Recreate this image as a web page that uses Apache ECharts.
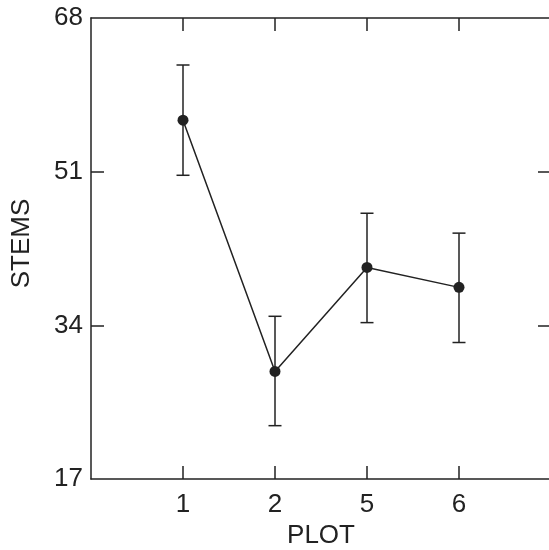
<!DOCTYPE html>
<html>
<head>
<meta charset="utf-8">
<script src="https://cdn.jsdelivr.net/npm/echarts@6/dist/echarts.min.js"></script>
<style>
  html, body { margin: 0; padding: 0; background: #fff; }
  #chart { width: 549px; height: 550px; }
</style>
</head>
<body>
<div id="chart"></div>
<script>
// plots along the x axis, in the order drawn
const plots = ['1', '2', '5', '6']
// mean stem counts and error bar limits
const stemMeans = [56.7, 28.9, 40.4, 38.2]
const stemLow = [50.6, 22.9, 34.3, 32.1]
const stemHigh = [62.8, 35.0, 46.4, 44.2]
const yTicks = [17, 34, 51, 68]

const ink = '#222'
const font = 'Liberation Sans, Arial, Helvetica, sans-serif'

// plot i sits at position i + 1 on a 0..5 axis
const tickLabels = [''].concat(plots, [''])
const plotPos = plots.map((p, i) => i + 1)
const meanData = plots.map((p, i) => [plotPos[i], stemMeans[i]])
const barData = plots.map((p, i) => [plotPos[i], stemLow[i], stemHigh[i]])
const innerY = yTicks.slice(1, -1)

let myChart = echarts.init(document.getElementById('chart'))

const labelStyle = { color: ink, fontSize: 26, fontFamily: font }
const lineStyle = { color: ink, width: 1.5 }

myChart.setOption({
    backgroundColor: '#fff',
    animation: false,
    grid: { left: 91, right: -2, top: 18, bottom: 71, containLabel: false, outerBoundsMode: 'none' },
    xAxis: [
        {
            type: 'value',
            min: 0,
            max: 5,
            interval: 1,
            position: 'bottom',
            name: 'PLOT',
            nameLocation: 'middle',
            nameGap: 44,
            nameTextStyle: labelStyle,
            axisLine: { onZero: false, lineStyle: lineStyle },
            axisTick: { inside: true, length: 13, customValues: plotPos, lineStyle: lineStyle },
            axisLabel: Object.assign({ margin: 13, customValues: plotPos, formatter: v => tickLabels[v] || '' }, labelStyle),
            splitLine: { show: false }
        },
        {
            type: 'value',
            min: 0,
            max: 5,
            interval: 1,
            position: 'top',
            axisLine: { onZero: false, lineStyle: lineStyle },
            axisTick: { inside: true, length: 13, customValues: plotPos, lineStyle: lineStyle },
            axisLabel: { show: false },
            splitLine: { show: false }
        }
    ],
    yAxis: [
        {
            type: 'value',
            min: 17,
            max: 68,
            interval: 17,
            position: 'left',
            name: 'STEMS',
            nameLocation: 'middle',
            nameGap: 56,
            nameTextStyle: Object.assign({ padding: [0, 0, 0, 10] }, labelStyle),
            axisLine: { show: true, onZero: false, lineStyle: lineStyle },
            axisTick: { show: true, inside: true, length: 13, customValues: innerY, lineStyle: lineStyle },
            axisLabel: Object.assign({ margin: 8, customValues: yTicks }, labelStyle),
            splitLine: { show: false }
        },
        {
            type: 'value',
            min: 17,
            max: 68,
            interval: 17,
            position: 'right',
            axisLine: { show: true, onZero: false, lineStyle: lineStyle },
            axisTick: { show: true, inside: true, length: 13, customValues: innerY, lineStyle: lineStyle },
            axisLabel: { show: false },
            splitLine: { show: false }
        }
    ],
    series: [
        {
            type: 'custom',
            name: 'error',
            data: barData,
            renderItem: function (params, api) {
                const x = api.value(0)
                const lo = api.coord([x, api.value(1)])
                const hi = api.coord([x, api.value(2)])
                const half = 6.5
                const style = { stroke: ink, lineWidth: 1.5 }
                return {
                    type: 'group',
                    children: [
                        { type: 'line', shape: { x1: hi[0], y1: hi[1], x2: lo[0], y2: lo[1] }, style: style },
                        { type: 'line', shape: { x1: hi[0] - half, y1: hi[1], x2: hi[0] + half, y2: hi[1] }, style: style },
                        { type: 'line', shape: { x1: lo[0] - half, y1: lo[1], x2: lo[0] + half, y2: lo[1] }, style: style }
                    ]
                }
            },
            z: 2
        },
        {
            type: 'line',
            name: 'STEMS',
            data: meanData,
            symbol: 'circle',
            symbolSize: 11,
            itemStyle: { color: ink },
            lineStyle: { color: ink, width: 1.5 },
            z: 3
        }
    ]
})
window.addEventListener('resize', function () {
    myChart.resize()
})
</script>
</body>
</html>
